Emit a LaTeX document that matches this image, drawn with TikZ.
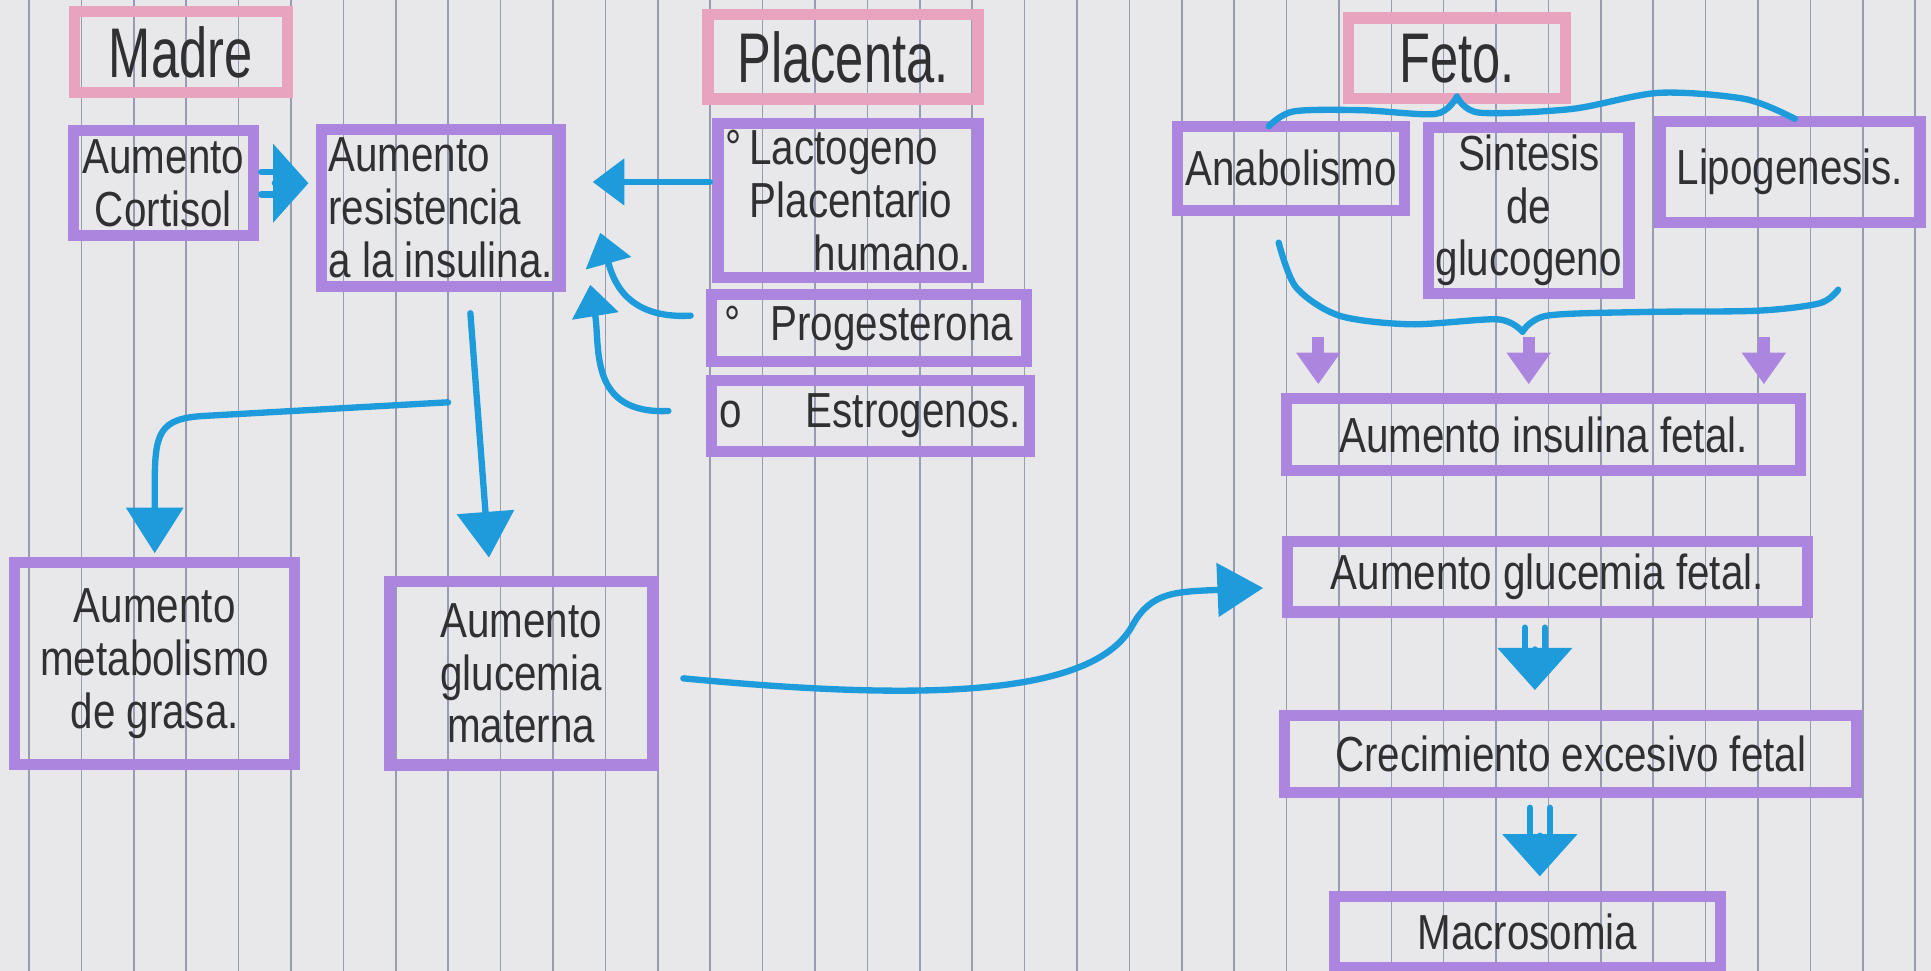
\documentclass[tikz,border=0pt]{standalone}
\usepackage{fontspec}
\setmainfont[FakeStretch=0.82]{Liberation Sans}
\newfontfamily\headfont[FakeStretch=0.72]{Liberation Sans}
\usetikzlibrary{arrows.meta,calc}
\definecolor{paper}{HTML}{E8E8EA}
\definecolor{ruling}{HTML}{969CB2}
\definecolor{mpurple}{HTML}{AC86DE}
\definecolor{mpink}{HTML}{E8A4BF}
\definecolor{mblue}{HTML}{1E9BDB}
\definecolor{ink}{HTML}{303033}
\def\myu{0.01238cm}
\begin{document}
\begin{tikzpicture}[x=0.01238cm,y=-0.01238cm,
  sz/.style 2 args={minimum width=#1*\myu, minimum height=#2*\myu},
  box/.style={draw=mpurple, line width=3.2pt, text=ink, font=\fontsize{14}{15}\selectfont, inner sep=2pt, align=center},
  headbox/.style={draw=mpink, line width=3.2pt, text=ink, font=\headfont\fontsize{20}{22}\selectfont, inner sep=2pt},
  bline/.style={draw=mblue, line width=1.8pt, line cap=round},
  pline/.style={draw=mpurple, line width=3.5pt},
  tipA/.style={-{Triangle[length=10pt,width=22pt]}},
  tipB/.style={-{Triangle[length=9pt,width=13pt]}},
  tipC/.style={-{Triangle[length=13pt,width=16pt]}},
  tipD/.style={-{Triangle[length=12pt,width=21pt]}},
  tipE/.style={-{Triangle[length=13pt,width=15pt]}},
  tipP/.style={-{Triangle[length=9pt,width=12pt]}},
  paperline/.style={draw=ruling, line width=0.45pt}
]
% paper
\fill[paper] (0,0) rectangle (1560,784.3);
\useasboundingbox (0,0) rectangle (1560,784.3);
\foreach \i in {0,...,36} \draw[paperline] ({23.4+42.33*\i},0) -- ++(0,784.3);

% headings
\node[headbox, sz={172}{65}] (madre) at (146,42) {Madre};
\node[headbox, sz={218}{68}] (placenta) at (681,46) {Placenta.};
\node[headbox, sz={175}{65}] (feto) at (1177,47) {Feto.};

% madre / placenta boxes
\node[box, sz={145}{85}] (cortisol) at (132,148) {Aumento\\Cortisol};
\node[box, sz={188}{127}, align=left] (resist) at (356,168) {Aumento\\resistencia\\a la insulina.};
\node[box, sz={210}{105}, align=left] (lacto) at (685,162) {°\,Lactogeno\\\hspace*{0.5em}Placentario\\\hspace*{1.8em}humano.};
\node[box, sz={255}{54}] (proges) at (702,265) {°\hspace{0.6em}Progesterona};
\node[box, sz={257}{57}] (estro) at (703,336) {o\hspace{1.3em}Estrogenos.};
\node[box, sz={226}{163}] (metab) at (125,536) {Aumento\\metabolismo\\de grasa.};
\node[box, sz={213}{148}] (glumat) at (421,544) {Aumento\\glucemia\\materna};

% feto boxes
\node[box, sz={183}{68}] (anab) at (1043,136) {Anabolismo};
\node[box, sz={140}{130}] (sint) at (1235,170) {Sintesis\\de\\glucogeno};
\node[box, sz={210}{82}] (lipo) at (1446,139) {Lipogenesis.};
\node[box, sz={415}{58}] (insfet) at (1247,351) {Aumento insulina fetal.};
\node[box, sz={420}{57}] (glufet) at (1250,466) {Aumento glucemia fetal.};
\node[box, sz={462}{62}] (crec) at (1269,609) {Crecimiento excesivo fetal};
\node[box, sz={312}{57}] (macro) at (1234,753) {Macrosomia};

% cortisol => resistencia
\draw[bline] ($(cortisol.east)+(2,-9)$) -- ++(26,0);
\draw[bline] ($(cortisol.east)+(2,9)$) -- ++(26,0);
\draw[bline, tipA] ($(cortisol.east)+(20,0)$) -- ($(resist.west)+(-6,-20)$);

% hormones -> resistencia
\draw[bline, tipB] ($(lacto.west)+(-2,-15)$) -- ($(resist.east)+(22,-21)$);
\draw[bline, tipB] ($(proges.west)+(-12,-10)$) .. controls (505,258) and (495,225) .. ($(resist.east)+(28,20)$);
\draw[bline, tipB] ($(estro.west)+(-30,-4)$) .. controls (475,335) and (485,280) .. ($(resist.east)+(20,62)$);

% resistencia -> glucemia materna / metabolismo
\draw[bline, tipC] ($(resist.south)+(24,17)$) -- ($(glumat.north)+(-26,-15)$);
\coordinate (br) at (362,325);
\draw[bline, tipC] (br) -- (165,336) .. controls (128,338) and (125,350) .. (125,392) -- ($(metab.north)+(0,-3)$);

% glucemia materna -> glucemia fetal
\draw[bline, tipE] ($(glumat.east)+(20,4)$) .. controls (760,568) and (885,560) .. (915,505) .. controls (930,478) and (950,478) .. ($(glufet.west)+(-15,9)$);

% braces
\draw[bline] plot[smooth] coordinates {(1025,102) (1045,90) (1100,89) (1160,92) (1177,78)};
\draw[bline] plot[smooth] coordinates {(1177,78) (1195,91) (1270,88) (1340,75) (1410,80) (1450,96)};
\draw[bline] plot[smooth] coordinates {(1033,196) (1047,232) (1082,255) (1140,262) (1210,258) (1230,268)};
\draw[bline] plot[smooth] coordinates {(1230,268) (1250,255) (1330,252) (1420,251) (1470,245) (1485,234)};

% purple arrows
\coordinate (pa) at (1065,272);
\coordinate (pb) at (1235,272);
\coordinate (pc) at (1425,272);
\draw[pline, tipP] (pa) -- ($(insfet.north)+(-182,-7)$);
\draw[pline, tipP] (pb) -- ($(insfet.north)+(-12,-7)$);
\draw[pline, tipP] (pc) -- ($(insfet.north)+(178,-7)$);

% glucemia fetal => crecimiento
\draw[bline] ($(glufet.south)+(-18,8)$) -- ++(0,30);
\draw[bline] ($(glufet.south)+(-2,8)$) -- ++(0,30);
\draw[bline, tipD] ($(glufet.south)+(-10,31)$) -- ($(crec.north)+(-29,-16)$);

% crecimiento => macrosomia
\draw[bline] ($(crec.south)+(-33,8)$) -- ++(0,32);
\draw[bline] ($(crec.south)+(-17,8)$) -- ++(0,32);
\draw[bline, tipD] ($(crec.south)+(-25,35)$) -- ($(macro.north)+(10,-12)$);
\end{tikzpicture}
\end{document}
